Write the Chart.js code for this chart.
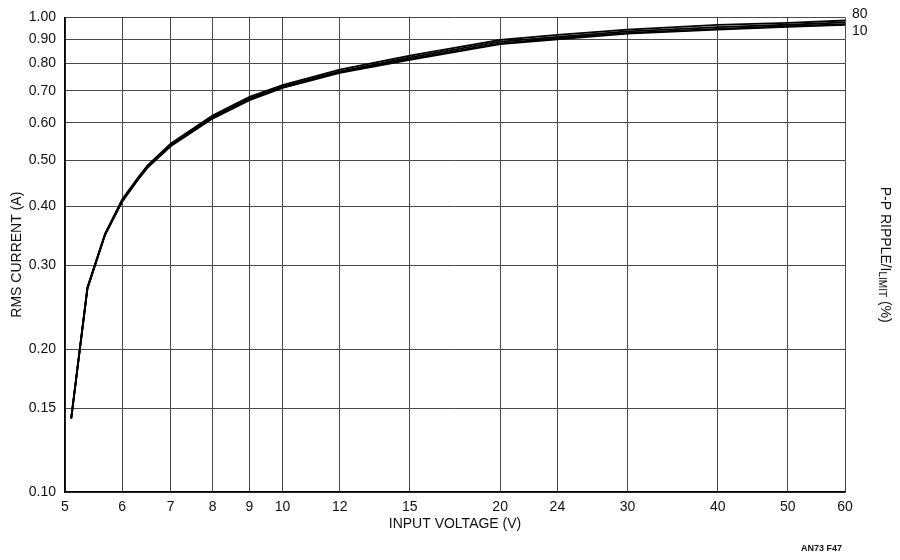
<!DOCTYPE html>
<html>
<head>
<meta charset="utf-8">
<script src="https://cdn.jsdelivr.net/npm/chart.js@4"></script>
<style>
  html, body { margin: 0; padding: 0; background: #fff; }
  #wrap { width: 900px; height: 560px; }
</style>
</head>
<body>
<div id="wrap"><canvas id="rmsChart"></canvas></div>
<script>
// input voltage (V) where the curves were read
var vin = [5.1, 5.37, 5.68, 6, 6.3, 6.5, 7, 8, 9, 10, 12, 15, 20, 24, 30, 40, 50, 60];
// RMS current (A) for each P-P ripple / ILIMIT (%)
var ripple10 = [0.143, 0.268, 0.348, 0.409, 0.454, 0.482, 0.535, 0.612, 0.669, 0.710, 0.764, 0.814, 0.878, 0.899, 0.924, 0.942, 0.955, 0.964];
var ripple20 = [0.143, 0.268, 0.349, 0.410, 0.455, 0.483, 0.537, 0.614, 0.671, 0.712, 0.767, 0.818, 0.882, 0.904, 0.928, 0.946, 0.959, 0.968];
var ripple40 = [0.143, 0.269, 0.349, 0.411, 0.456, 0.485, 0.539, 0.617, 0.675, 0.715, 0.770, 0.824, 0.889, 0.910, 0.934, 0.954, 0.965, 0.976];
var ripple80 = [0.143, 0.270, 0.350, 0.414, 0.458, 0.487, 0.542, 0.621, 0.680, 0.720, 0.776, 0.831, 0.897, 0.919, 0.942, 0.964, 0.974, 0.985];

var xTicks = [5, 6, 7, 8, 9, 10, 12, 15, 20, 24, 30, 40, 50, 60];
var yTicks = [0.10, 0.15, 0.20, 0.30, 0.40, 0.50, 0.60, 0.70, 0.80, 0.90, 1.00];
var curveLabels = ['10', '20', '40', '80'];

var FONT = "'Liberation Sans Narrow', 'Liberation Sans', Arial, sans-serif";

function toPoints(ys) {
    return vin.map(function (v, i) { return { x: v, y: ys[i] }; });
}

var curves = [ripple10, ripple20, ripple40, ripple80].map(function (ys, i) {
    return {
        label: curveLabels[i],
        data: toPoints(ys),
        borderColor: '#000',
        borderWidth: 1.8,
        pointRadius: 0,
        tension: 0,
        fill: false
    };
});

// axis titles, right-hand labels and figure tag
var textPlugin = {
    id: 'textPlugin',
    afterDraw: function (chart) {
        var ctx = chart.ctx;
        var a = chart.chartArea;
        var midY = (a.top + a.bottom) / 2;
        ctx.save();
        ctx.fillStyle = '#111';
        ctx.textBaseline = 'middle';

        ctx.font = '14px ' + FONT;
        ctx.textAlign = 'center';
        ctx.fillText('INPUT VOLTAGE (V)', (a.left + a.right) / 2, 524);

        ctx.save();
        ctx.translate(17, midY);
        ctx.rotate(-Math.PI / 2);
        ctx.fillText('RMS CURRENT (A)', 0, 0);
        ctx.restore();

        // end labels of the curve band
        var first = chart.getDatasetMeta(0).data;
        var last = chart.getDatasetMeta(3).data;
        ctx.textAlign = 'left';
        ctx.fillText(curveLabels[3], a.right + 7, last[last.length - 1].y - 6);
        ctx.fillText(curveLabels[0], a.right + 7, first[first.length - 1].y + 6);

        // right title with subscript
        var parts = [
            { t: 'P-P RIPPLE/I', f: '14px ' + FONT, dy: 0 },
            { t: 'LIMIT', f: '10px ' + FONT, dy: 3 },
            { t: ' (%)', f: '14px ' + FONT, dy: 0 }
        ];
        var total = 0;
        parts.forEach(function (p) { ctx.font = p.f; p.w = ctx.measureText(p.t).width; total += p.w; });
        ctx.save();
        ctx.translate(885, midY);
        ctx.rotate(Math.PI / 2);
        var x = -total / 2;
        parts.forEach(function (p) {
            ctx.font = p.f;
            ctx.fillText(p.t, x, p.dy);
            x += p.w;
        });
        ctx.restore();

        ctx.font = 'bold 9px ' + FONT;
        ctx.textAlign = 'right';
        ctx.fillText('AN73 F47', 842, 549);
        ctx.restore();
    }
};

var ctx1 = document.getElementById('rmsChart').getContext('2d');
var rmsChart = new Chart(ctx1, {
    type: 'line',
    data: { datasets: curves },
    options: {
        responsive: true,
        maintainAspectRatio: false,
        animation: false,
        layout: { padding: { left: 0, right: 55, top: 14, bottom: 0 } },
        plugins: {
            legend: { display: false },
            tooltip: { enabled: false }
        },
        scales: {
            x: {
                type: 'logarithmic',
                min: 5,
                max: 60,
                afterBuildTicks: function (scale) {
                    scale.ticks = xTicks.map(function (v) { return { value: v }; });
                },
                afterFit: function (scale) { scale.height = 68; },
                ticks: {
                    autoSkip: false,
                    maxRotation: 0,
                    padding: 7,
                    color: '#111',
                    font: { family: FONT, size: 14 },
                    callback: function (v) { return String(v); }
                },
                grid: { color: '#4a4a4a', lineWidth: 1, drawTicks: false },
                border: { color: '#000', width: 1.5 }
            },
            y: {
                type: 'logarithmic',
                min: 0.1,
                max: 1.0,
                afterBuildTicks: function (scale) {
                    scale.ticks = yTicks.map(function (v) { return { value: v }; });
                },
                afterFit: function (scale) { scale.width = 65; },
                ticks: {
                    autoSkip: false,
                    padding: 9,
                    color: '#111',
                    font: { family: FONT, size: 14 },
                    callback: function (v) { return Number(v).toFixed(2); }
                },
                grid: { color: '#4a4a4a', lineWidth: 1, drawTicks: false },
                border: { color: '#000', width: 1.5 }
            }
        }
    },
    plugins: [textPlugin]
});
</script>
</body>
</html>
